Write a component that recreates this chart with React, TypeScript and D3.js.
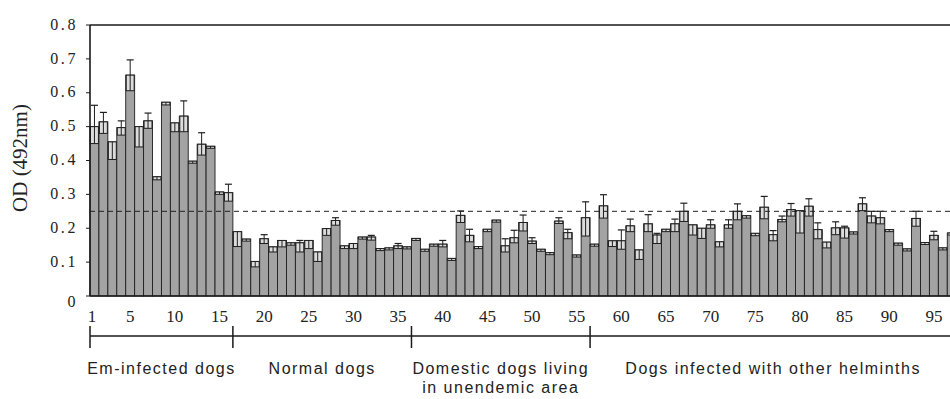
import React from "react";
import * as d3 from "d3";

// Mean OD per serum sample (top of each bar)
const od = [
  0.5, 0.514, 0.455, 0.497, 0.652, 0.5, 0.517, 0.352, 0.572, 0.511, 0.531, 0.398, 0.448, 0.442, 0.307, 0.305,
  0.19, 0.168, 0.102, 0.169, 0.145, 0.164, 0.157, 0.157, 0.164, 0.13, 0.199, 0.223, 0.148, 0.155, 0.174, 0.174, 0.14, 0.142, 0.148, 0.145,
  0.17, 0.138, 0.153, 0.153, 0.111, 0.238, 0.179, 0.146, 0.197, 0.224, 0.148, 0.172, 0.217, 0.162, 0.138, 0.128, 0.221, 0.187, 0.121, 0.231,
  0.153, 0.266, 0.163, 0.163, 0.207, 0.136, 0.213, 0.18, 0.197, 0.213, 0.25, 0.21, 0.2, 0.21, 0.16, 0.21, 0.25, 0.237, 0.185, 0.262,
  0.181, 0.226, 0.255, 0.252, 0.265, 0.196, 0.159, 0.201, 0.201, 0.189, 0.272, 0.236, 0.231, 0.196, 0.156, 0.139, 0.229, 0.158, 0.179, 0.142, 0.186,
];

// Lower deviation (box below the mean)
const errLow = [
  0.05, 0.034, 0.052, 0.022, 0.046, 0.06, 0.022, 0.009, 0.008, 0.026, 0.046, 0.006, 0.032, 0.006, 0.007, 0.025,
  0.044, 0.006, 0.016, 0.014, 0.015, 0.019, 0.007, 0.027, 0.024, 0.028, 0.02, 0.014, 0.008, 0.015, 0.006, 0.009, 0.006, 0.006, 0.008, 0.006,
  0.006, 0.006, 0.006, 0.008, 0.006, 0.021, 0.019, 0.006, 0.007, 0.006, 0.018, 0.015, 0.025, 0.007, 0.006, 0.006, 0.007, 0.018, 0.006, 0.054,
  0.006, 0.036, 0.017, 0.025, 0.017, 0.028, 0.023, 0.025, 0.007, 0.023, 0.03, 0.03, 0.03, 0.01, 0.015, 0.01, 0.025, 0.007, 0.007, 0.034,
  0.018, 0.007, 0.019, 0.066, 0.029, 0.027, 0.017, 0.02, 0.03, 0.006, 0.02, 0.02, 0.018, 0.006, 0.006, 0.006, 0.023, 0.006, 0.013, 0.006, 0.006,
];

// Upper deviation (whisker above the mean)
const errHigh = [
  0.063, 0.028, 0, 0.02, 0.045, 0, 0.023, 0, 0, 0, 0.045, 0, 0.034, 0, 0, 0.025,
  0, 0, 0, 0.012, 0, 0, 0, 0.007, 0, 0, 0, 0.008, 0, 0, 0, 0.005, 0, 0, 0.007, 0,
  0, 0, 0, 0.011, 0, 0.013, 0.018, 0, 0, 0, 0.021, 0.022, 0.022, 0.01, 0, 0, 0.01, 0.01, 0, 0.047,
  0, 0.033, 0, 0.032, 0.02, 0, 0.027, 0.005, 0, 0.014, 0.024, 0, 0, 0.015, 0, 0.015, 0.022, 0, 0, 0.032,
  0.012, 0.01, 0.018, 0, 0.022, 0.02, 0, 0.018, 0.005, 0, 0.018, 0.014, 0.019, 0, 0, 0, 0.021, 0, 0.012, 0, 0,
];

const sampleIds = od.map((_, i) => i + 1);
const xTickLabels = [1, 5, 10, 15, 20, 25, 30, 35, 40, 45, 50, 55, 60, 65, 70, 75, 80, 85, 90, 95];
const yTicks = [0, 0.1, 0.2, 0.3, 0.4, 0.5, 0.6, 0.7, 0.8];
const cutoff = 0.25;

// Dog groups: first and last sample id of each
const groupNames = [
  ["Em-infected dogs"],
  ["Normal dogs"],
  ["Domestic dogs living", "in unendemic area"],
  ["Dogs infected with other helminths"],
];
const groupStart = [1, 17, 37, 57];
const groupEnd = [16, 36, 56, 97];

const W = 950;
const H = 399;
const left = 90;
const slot = 8.93;
const top = 25;
const base = 296;

const serif = "'Liberation Serif', 'Times New Roman', serif";
const sans = "'Liberation Sans', Arial, sans-serif";

export default function App() {
  const x = d3
    .scaleBand<number>()
    .domain(sampleIds)
    .range([left, left + slot * sampleIds.length])
    .paddingInner(0)
    .paddingOuter(0);
  const y = d3.scaleLinear().domain([0, 0.8]).range([base, top]);
  const bw = x.bandwidth();

  const bracketY = 336;

  return (
    <svg
      width={W}
      height={H}
      style={{ position: "absolute", left: 0, top: 0, background: "#fff" }}
    >
      <defs>
        <clipPath id="plotClip">
          <rect x={0} y={0} width={W} height={H} />
        </clipPath>
      </defs>

      {/* bars */}
      <g clipPath="url(#plotClip)">
        {sampleIds.map((id, i) => {
          const x0 = x(id)!;
          const cx = x0 + bw / 2;
          const v = od[i];
          const lo = v - errLow[i];
          const hi = v + errHigh[i];
          return (
            <g key={id}>
              <rect
                x={x0}
                y={y(v)}
                width={bw}
                height={base - y(v)}
                fill="#a3a3a3"
                stroke="#1e1e1e"
                strokeWidth={0.9}
              />
              <rect
                x={x0 + 0.5}
                y={y(v)}
                width={bw - 1}
                height={y(lo) - y(v)}
                fill="#dcdcdc"
                stroke="#1e1e1e"
                strokeWidth={1}
              />
              <line x1={cx} x2={cx} y1={y(lo)} y2={y(v)} stroke="#1e1e1e" strokeWidth={1} />
              {errHigh[i] > 0 && (
                <>
                  <line x1={cx} x2={cx} y1={y(v)} y2={y(hi)} stroke="#1e1e1e" strokeWidth={1} />
                  <line x1={cx - 3.5} x2={cx + 3.5} y1={y(hi)} y2={y(hi)} stroke="#1e1e1e" strokeWidth={1.2} />
                </>
              )}
            </g>
          );
        })}
      </g>

      {/* cut-off line */}
      <line
        x1={left}
        x2={W}
        y1={y(cutoff)}
        y2={y(cutoff)}
        stroke="#222"
        strokeWidth={1}
        strokeDasharray="5,4"
      />

      {/* frame */}
      <line x1={left} x2={W} y1={top} y2={top} stroke="#1a1a1a" strokeWidth={1.6} />
      <line x1={left} x2={left} y1={top} y2={base} stroke="#1a1a1a" strokeWidth={1.6} />
      <line x1={left} x2={W} y1={base} y2={base} stroke="#1a1a1a" strokeWidth={1.6} />

      {/* y axis */}
      {yTicks.map((t) => (
        <g key={t}>
          <line x1={left - 4} x2={left} y1={y(t)} y2={y(t)} stroke="#1a1a1a" strokeWidth={1} />
          <text
            x={78}
            y={t === 0 ? y(t) + 7 : y(t) + 1}
            textAnchor="end"
            dominantBaseline="middle"
            fontFamily={serif}
            fontSize={16}
            letterSpacing={2.6}
            fill="#222"
          >
            {t === 0 ? "0" : t.toFixed(1)}
          </text>
        </g>
      ))}
      <text
        transform={`translate(22,158) rotate(-90)`}
        textAnchor="middle"
        dominantBaseline="middle"
        fontFamily={serif}
        fontSize={21}
        fill="#222"
      >
        OD (492nm)
      </text>

      {/* x tick labels */}
      {xTickLabels.map((t) => (
        <text
          key={t}
          x={t === 1 ? x(t)! + 2 : x(t)! + bw / 2}
          y={318}
          textAnchor="middle"
          dominantBaseline="middle"
          fontFamily={serif}
          fontSize={17}
          fill="#222"
        >
          {t}
        </text>
      ))}

      {/* group bracket */}
      <line x1={left} x2={W} y1={bracketY} y2={bracketY} stroke="#1a1a1a" strokeWidth={1.6} />
      {groupStart.map((s, gi) => (
        <line
          key={gi}
          x1={x(s)!}
          x2={x(s)!}
          y1={326}
          y2={348}
          stroke="#1a1a1a"
          strokeWidth={1.5}
        />
      ))}

      {/* group names */}
      {groupNames.map((lines, gi) => {
        const cx = (x(groupStart[gi])! + x(groupEnd[gi])! + bw) / 2;
        return (
          <text
            key={gi}
            x={cx}
            y={374}
            textAnchor="middle"
            fontFamily={sans}
            fontSize={16}
            letterSpacing={1.5}
            fill="#222"
          >
            {lines.map((ln, li) => (
              <tspan key={li} x={cx} dy={li === 0 ? 0 : 19}>
                {ln}
              </tspan>
            ))}
          </text>
        );
      })}
    </svg>
  );
}
